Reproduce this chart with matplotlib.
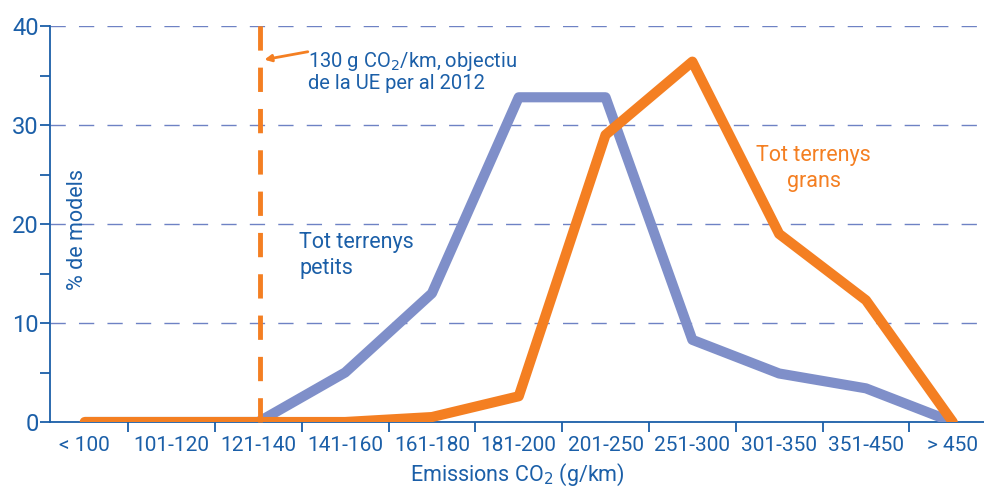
import numpy as np
import matplotlib
matplotlib.use("Agg")
import matplotlib.pyplot as plt
from matplotlib.ticker import MultipleLocator, FixedLocator
from matplotlib.patches import Rectangle

categories = ["< 100", "101-120", "121-140", "141-160", "161-180", "181-200",
              "201-250", "251-300", "301-350", "351-450", "> 450"]
petits = [0, 0, 0, 5.0, 13.0, 32.8, 32.8, 8.3, 4.9, 3.4, 0]
grans = [0, 0, 0, 0, 0.5, 2.6, 29.0, 36.4, 19.0, 12.3, 0]
objectiu_x = 2.02   # position of the 130 g CO2/km line on the category axis

BLUE_TXT = "#1b5fa8"
BLUE_LINE = "#7f8fc9"
ORANGE = "#f47f22"
GRID = "#6e82c4"

plt.rcParams["font.family"] = ["Roboto", "DejaVu Sans"]

fig = plt.figure(figsize=(9.84, 4.99), dpi=100)
ax = fig.add_axes([50 / 984, 77 / 499, 934 / 984, 396 / 499])

x = np.arange(len(categories))
ax.plot(x, petits, color=BLUE_LINE, lw=7.3, solid_capstyle="butt",
        solid_joinstyle="round", zorder=3)
ax.plot(x, grans, color=ORANGE, lw=7.3, solid_capstyle="round",
        solid_joinstyle="round", zorder=4)

# objective line
ax.plot([objectiu_x, objectiu_x], [0, 41.1], color=ORANGE, lw=3.5,
        dashes=(5, 3.5), clip_on=False, zorder=5)

ax.set_xlim(-0.4, 10.36)
ax.set_ylim(0, 40)

for s in ["top", "right"]:
    ax.spines[s].set_visible(False)
for s in ["left", "bottom"]:
    ax.spines[s].set_color(BLUE_TXT)
    ax.spines[s].set_linewidth(1.3)

ax.yaxis.set_major_locator(MultipleLocator(10))
ax.yaxis.set_minor_locator(MultipleLocator(5))
ax.tick_params(axis="y", which="both", length=7, width=1.3, color=BLUE_TXT,
               labelcolor=BLUE_TXT, labelsize=17, pad=1)
ax.grid(axis="y", which="major", color=GRID, lw=1.0, dashes=(11, 9.5))

ax.set_xticks(x)
ax.set_xticklabels(categories)
ax.xaxis.set_minor_locator(FixedLocator(x[:-1] + 0.5))
ax.tick_params(axis="x", which="major", length=0, labelcolor=BLUE_TXT,
               labelsize=15, pad=10)
ax.tick_params(axis="x", which="minor", length=7, width=1.3, color=BLUE_TXT)

ax.set_xlabel("Emissions CO$_2$ (g/km)", color=BLUE_TXT, fontsize=15.5, labelpad=5)

# white area behind the y label hides the grid there
ax.add_patch(Rectangle((-0.39, 17), 0.76, 6, facecolor="white",
                       edgecolor="none", zorder=1.5))
ax.text(-0.08, 19.4, "% de models", rotation=90, color=BLUE_TXT, fontsize=15.5,
        ha="center", va="center", zorder=2)

ax.text(2.57, 37.6, "130 g CO$_2$/km, objectiu\nde la UE per al 2012",
        color=BLUE_TXT, fontsize=14.5, ha="left", va="top", linespacing=1.05)
ax.annotate("", xy=(objectiu_x + 0.05, 36.6), xytext=(2.57, 37.4),
            arrowprops=dict(arrowstyle="-|>", color=ORANGE, lw=2,
                            mutation_scale=10, shrinkA=0, shrinkB=0))

ax.text(2.47, 16.8, "Tot terrenys\npetits", color=BLUE_TXT, fontsize=15.5,
        ha="left", va="center", linespacing=1.35)
ax.text(8.4, 25.6, "Tot terrenys\ngrans", color=ORANGE, fontsize=15.5,
        ha="center", va="center", linespacing=1.35)

fig.savefig("out.png", dpi=100)
